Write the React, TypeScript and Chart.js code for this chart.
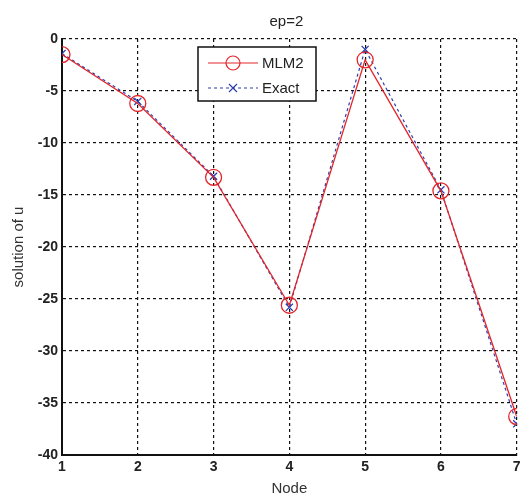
import React, { useEffect, useRef } from "react";
import { Chart, registerables } from "chart.js";

Chart.register(...registerables);

const nodes = [1, 2, 3, 4, 5, 6, 7];
const mlm2Values = [-1.5, -6.2, -13.3, -25.6, -2.0, -14.6, -36.3];
const exactValues = [-1.4, -6.0, -13.2, -25.8, -1.0, -14.5, -37.0];
const titleText = "ep=2";
const xTitle = "Node";
const yTitle = "solution of u";
const seriesNames = ["MLM2", "Exact"];

const FONT = "'Liberation Sans', Arial, sans-serif";
const RED = "#e3262b";
const BLUE = "#2d3fae";

const overlayPlugin = {
  id: "overlay",
  afterDraw(chart: any) {
    const ctx = chart.ctx;
    const ca = chart.chartArea;
    ctx.save();
    // title
    ctx.fillStyle = "#222";
    ctx.font = `15px ${FONT}`;
    ctx.textAlign = "center";
    ctx.textBaseline = "middle";
    ctx.fillText(titleText, (ca.left + ca.right) / 2 - 3, 22);

    // legend box
    const bx = 198, by = 47, bw = 118, bh = 54;
    ctx.fillStyle = "#fff";
    ctx.fillRect(bx, by, bw, bh);
    ctx.strokeStyle = "#111";
    ctx.lineWidth = 1.5;
    ctx.strokeRect(bx, by, bw, bh);

    // row 1
    const r1 = by + 16;
    ctx.strokeStyle = RED;
    ctx.lineWidth = 1.2;
    ctx.setLineDash([]);
    ctx.beginPath();
    ctx.moveTo(bx + 10, r1);
    ctx.lineTo(bx + 60, r1);
    ctx.stroke();
    ctx.beginPath();
    ctx.arc(bx + 35, r1, 7, 0, Math.PI * 2);
    ctx.stroke();
    ctx.fillStyle = "#222";
    ctx.textAlign = "left";
    ctx.font = `15px ${FONT}`;
    ctx.fillText(seriesNames[0], bx + 64, r1 + 1);

    // row 2
    const r2 = by + 41;
    ctx.strokeStyle = BLUE;
    ctx.lineWidth = 1.2;
    ctx.setLineDash([3, 3]);
    ctx.beginPath();
    ctx.moveTo(bx + 10, r2);
    ctx.lineTo(bx + 60, r2);
    ctx.stroke();
    ctx.setLineDash([]);
    ctx.beginPath();
    ctx.moveTo(bx + 31, r2 - 4);
    ctx.lineTo(bx + 39, r2 + 4);
    ctx.moveTo(bx + 31, r2 + 4);
    ctx.lineTo(bx + 39, r2 - 4);
    ctx.stroke();
    ctx.fillStyle = "#222";
    ctx.fillText(seriesNames[1], bx + 64, r2 + 1);
    ctx.restore();
  },
};

export default function App() {
  const ref = useRef<HTMLCanvasElement | null>(null);
  useEffect(() => {
    if (!ref.current) return;
    const chart = new Chart(ref.current, {
      type: "line",
      data: {
        datasets: [
          {
            label: seriesNames[0],
            data: nodes.map((n, i) => ({ x: n, y: mlm2Values[i] })),
            borderColor: RED,
            backgroundColor: "rgba(0,0,0,0)",
            borderWidth: 1.3,
            pointStyle: "circle",
            pointRadius: 8,
            pointBorderWidth: 1.3,
            pointBorderColor: RED,
            pointBackgroundColor: "rgba(0,0,0,0)",
            tension: 0,
          },
          {
            label: seriesNames[1],
            data: nodes.map((n, i) => ({ x: n, y: exactValues[i] })),
            borderColor: BLUE,
            backgroundColor: "rgba(0,0,0,0)",
            borderWidth: 1.2,
            borderDash: [3, 3],
            pointStyle: "crossRot",
            pointRadius: 5,
            pointBorderWidth: 1.3,
            pointBorderColor: BLUE,
            tension: 0,
          },
        ],
      },
      options: {
        animation: false,
        responsive: false,
        layout: { padding: { top: 39, right: 8, left: 0, bottom: 0 } },
        plugins: {
          legend: { display: false },
          title: { display: false },
          tooltip: { enabled: false },
        },
        scales: {
          x: {
            type: "linear",
            min: 1,
            max: 7,
            afterFit: (s: any) => {
              s.height = 44;
            },
            ticks: {
              stepSize: 1,
              color: "#222",
              font: { family: FONT, size: 14, weight: "bold" },
              padding: 4,
            },
            grid: {
              color: "#111",
              lineWidth: 1.2,
              drawTicks: false,
            },
            border: { display: true, color: "#111", width: 2, dash: [3, 3] },
            title: {
              display: true,
              text: xTitle,
              color: "#333",
              font: { family: FONT, size: 15 },
              padding: { top: 0, bottom: 1 },
            },
          },
          y: {
            min: -40,
            max: 0,
            afterFit: (s: any) => {
              s.width = 62;
            },
            ticks: {
              stepSize: 5,
              color: "#222",
              font: { family: FONT, size: 14, weight: "bold" },
              padding: 4,
            },
            grid: {
              color: "#111",
              lineWidth: 1.2,
              drawTicks: false,
            },
            border: { display: true, color: "#111", width: 2, dash: [3, 3] },
            title: {
              display: true,
              text: yTitle,
              color: "#333",
              font: { family: FONT, size: 15 },
              padding: { top: 10, bottom: 0 },
            },
          },
        },
      },
      plugins: [overlayPlugin],
    } as any);
    return () => chart.destroy();
  }, []);
  return (
    <div style={{ position: "fixed", left: 0, top: 0, width: 526, height: 499, background: "#fff" }}>
      <canvas ref={ref} width={526} height={499} style={{ width: 526, height: 499 }} />
    </div>
  );
}
